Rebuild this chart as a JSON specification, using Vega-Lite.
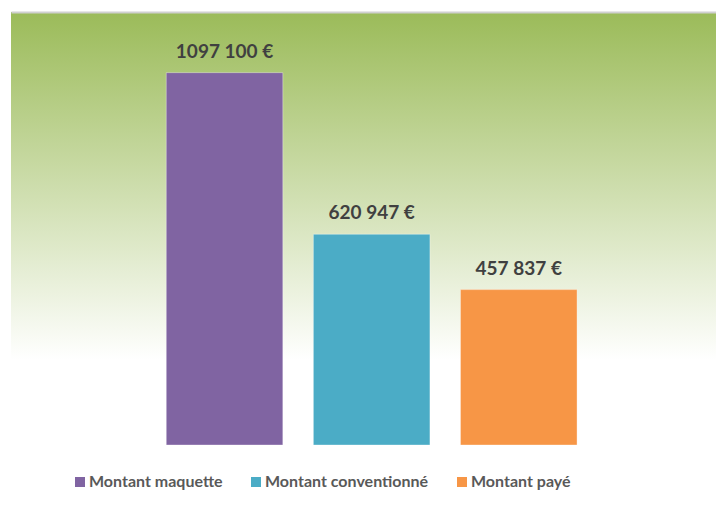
{
  "$schema": "https://vega.github.io/schema/vega-lite/v6.json",
  "width": 705,
  "height": 433,
  "autosize": {"type": "none"},
  "padding": {"left": 11, "top": 12, "right": 0, "bottom": 74},
  "background": "#FFFFFF",
  "config": {
    "font": "Lato",
    "view": {
      "stroke": null,
      "fill": {
        "gradient": "linear",
        "x1": 0, "y1": 0, "x2": 0, "y2": 1,
        "stops": [
          {"offset": 0, "color": "#9BBB59"},
          {"offset": 0.804, "color": "#FFFFFF"},
          {"offset": 1, "color": "#FFFFFF"}
        ]
      }
    }
  },
  "data": {
    "values": [
      {"categorie": "Montant maquette", "montant": 1097100, "label": "1097 100 €"},
      {"categorie": "Montant conventionné", "montant": 620947, "label": "620 947 €"},
      {"categorie": "Montant payé", "montant": 457837, "label": "457 837 €"}
    ]
  },
  "encoding": {
    "x": {
      "field": "categorie",
      "type": "nominal",
      "sort": null,
      "scale": {"paddingInner": 0.2077, "paddingOuter": 1.0116, "align": 0.5277},
      "axis": {"orient": "top", "title": null, "labels": false, "ticks": false, "grid": false, "domainColor": "#D0D0D0", "domainWidth": 2}
    },
    "y": {
      "field": "montant",
      "type": "quantitative",
      "scale": {"domain": [0, 1275800], "nice": false, "zero": true},
      "axis": null
    }
  },
  "layer": [
    {
      "mark": {"type": "bar", "stroke": "#FFFFFF", "strokeOpacity": 0.35, "strokeWidth": 1},
      "encoding": {
        "color": {
          "field": "categorie",
          "type": "nominal",
          "sort": null,
          "scale": {
            "domain": ["Montant maquette", "Montant conventionné", "Montant payé"],
            "range": ["#8064A2", "#4BACC6", "#F79646"]
          },
          "legend": {
            "orient": "none",
            "legendX": 61,
            "legendY": 462,
            "direction": "horizontal",
            "title": null,
            "symbolType": "square",
            "symbolSize": 100,
            "symbolStrokeWidth": 0,
            "labelFontSize": 16,
            "labelFontWeight": "bold",
            "labelColor": "#595959",
            "labelFont": "Lato",
            "labelOffset": 1,
            "labelLimit": 400,
            "columnPadding": 25
          }
        }
      }
    },
    {
      "mark": {"type": "text", "dy": -15, "baseline": "alphabetic", "fontSize": 19, "fontWeight": "bold", "color": "#404040", "font": "Lato"},
      "encoding": {"text": {"field": "label"}}
    }
  ]
}
